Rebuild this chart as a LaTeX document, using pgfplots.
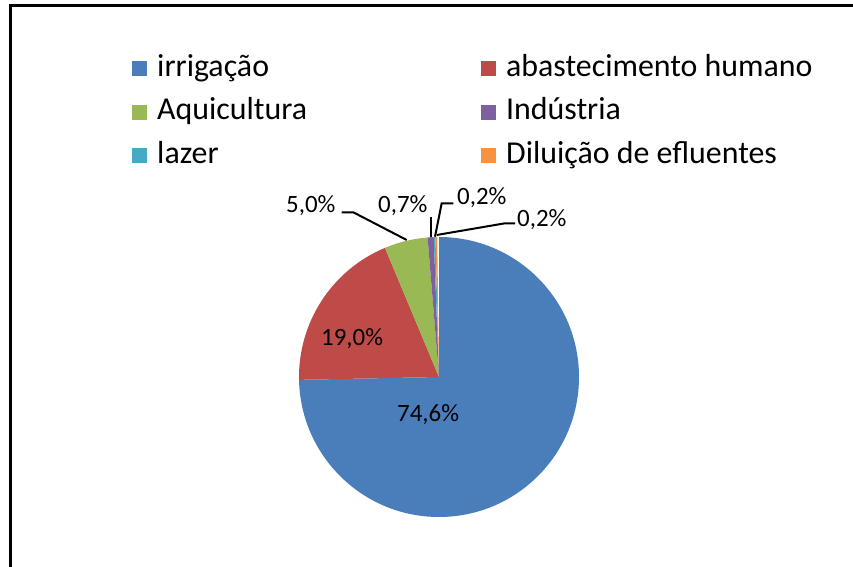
\documentclass[border=0pt]{standalone}
\usepackage{pgfplots}
\usepackage{pgfplotstable}
\pgfplotsset{compat=1.18}
\usepackage{fontspec}
\setmainfont{Carlito}
\definecolor{c1}{HTML}{4A7EBB}
\definecolor{c2}{HTML}{BE4B48}
\definecolor{c3}{HTML}{98B954}
\definecolor{c4}{HTML}{7D60A0}
\definecolor{c5}{HTML}{46AAC5}
\definecolor{c6}{HTML}{F69240}
\pgfplotstableread{
value color
74.6 c1
19.0 c2
5.0 c3
0.7 c4
0.2 c5
0.2 c6
}\piedata
\begin{document}
\begin{tikzpicture}
\begin{axis}[
  hide axis, scale only axis, width=853bp, height=567bp,
  xmin=0, xmax=853, ymin=0, ymax=567,
  legend columns=2,
  legend cell align=left,
  legend image code/.code={\fill[#1] (0bp,-7.5bp) rectangle (15bp,7.5bp); \path (25bp,0bp);},
  legend style={at={(axis cs:132,514)}, anchor=north west, draw=none, fill=none, inner sep=0pt,
     font=\fontsize{32}{38}\selectfont, row sep=12.5bp,
     nodes={inner sep=0pt, text height=23bp, text depth=8bp},
     /tikz/every even column/.append style={column sep=174bp}},
]
\addlegendimage{fill=c1,draw=none}\addlegendentry{irrigação}
\addlegendimage{fill=c2,draw=none}\addlegendentry{abastecimento humano}
\addlegendimage{fill=c3,draw=none}\addlegendentry{Aquicultura}
\addlegendimage{fill=c4,draw=none}\addlegendentry{Indústria}
\addlegendimage{fill=c5,draw=none}\addlegendentry{lazer}
\addlegendimage{fill=c6,draw=none}\addlegendentry{Diluição de efluentes}
\pgfplotsextra{
  \xdef\pieStart{90}
  \foreach \i in {0,...,5}{
    \pgfplotstablegetelem{\i}{value}\of\piedata
    \pgfmathsetmacro\sweep{3.6036036*\pgfplotsretval}
    \pgfmathsetmacro\stop{\pieStart-\sweep}
    \pgfplotstablegetelem{\i}{color}\of\piedata
    \edef\col{\pgfplotsretval}
    \fill[\col] (axis cs:439,190) -- ++(\pieStart:140bp) arc[start angle=\pieStart, end angle=\stop, radius=140bp] -- cycle;
    \xdef\pieStart{\stop}
  }
  \draw[line width=3bp] (axis cs:10,0) -- (axis cs:10,561) -- (axis cs:853,561);
  \begin{scope}[line width=2bp]
  \draw (axis cs:341.7,354.7) -- (axis cs:353.3,354.7) -- (axis cs:406.7,327);
  \draw (axis cs:431,330) -- (axis cs:431,350);
  \draw (axis cs:435,330.3) -- (axis cs:441.7,363.7) -- (axis cs:453.3,363.7);
  \draw (axis cs:436.7,332) -- (axis cs:505,343.7) -- (axis cs:515,343.7);
  \end{scope}
  \begin{scope}[every node/.style={inner sep=0pt, anchor=base west, font=\fontsize{25}{30}\selectfont}]
  \node at (axis cs:286,354) {5,0\%};
  \node at (axis cs:378,354) {0,7\%};
  \node at (axis cs:457,362) {0,2\%};
  \node at (axis cs:517,340) {0,2\%};
  \node at (axis cs:321,221) {19,0\%};
  \node at (axis cs:397,145) {74,6\%};
  \end{scope}
}
\end{axis}
\path (current axis.south west) rectangle (current axis.north east);
\end{tikzpicture}
\end{document}
